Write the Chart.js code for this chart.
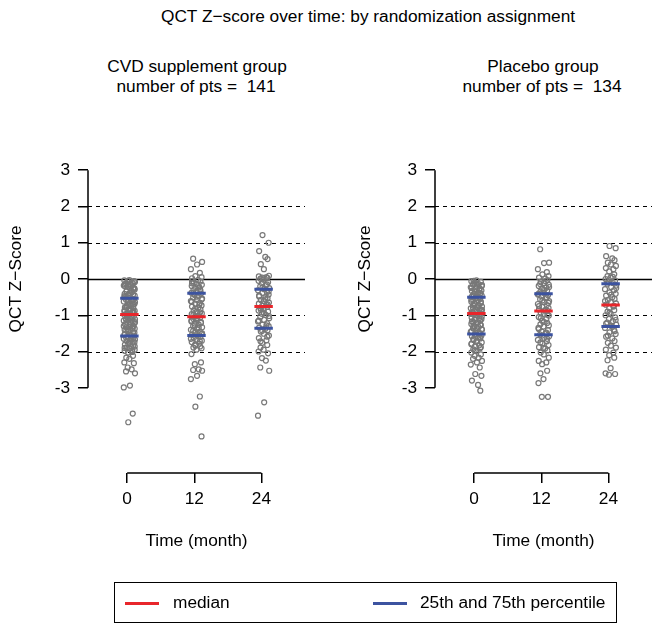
<!DOCTYPE html>
<html>
<head>
<meta charset="utf-8">
<script src="https://cdn.jsdelivr.net/npm/chart.js@4.4.1/dist/chart.umd.min.js"></script>
<style>
  body { margin: 0; background: #fff; font-family: "Liberation Sans", Arial, sans-serif; color: #000; }
  #wrap { position: relative; width: 662px; height: 634px; overflow: hidden; }
  canvas { position: absolute; left: 0; top: 0; }
  .t { position: absolute; white-space: nowrap; transform: translate(-50%, -50%); font-size: 17.3px; line-height: 1; }
  #legend { position: absolute; left: 114px; top: 582px; width: 501px; height: 39px; border: 1.5px solid #000; }
  .key { position: absolute; top: 19px; width: 34px; height: 3px; }
  .lab { position: absolute; top: 11px; font-size: 17.3px; line-height: 1; white-space: nowrap; }
</style>
</head>
<body>
<div id="wrap">
  <div class="t" style="left:368px;top:17px">QCT Z−score over time: by randomization assignment</div>
  <div class="t" style="left:197px;top:67px">CVD supplement group</div>
  <div class="t" style="left:196px;top:87px">number of pts = &nbsp;141</div>
  <div class="t" style="left:543px;top:67px">Placebo group</div>
  <div class="t" style="left:542px;top:87px">number of pts = &nbsp;134</div>
  <canvas id="cvd" width="662" height="634"></canvas>
  <canvas id="placebo" width="662" height="634"></canvas>
  <div id="legend">
    <div class="key" style="left:10px;background:#e8262b"></div>
    <div class="lab" style="left:58px">median</div>
    <div class="key" style="left:258px;background:#3c53a0"></div>
    <div class="lab" style="left:305px">25th and 75th percentile</div>
  </div>
</div>
<script>
// visit times (months)
const months = [0, 12, 24];
const xTicks = [0, 12, 24];
const yTicks = [-3, -2, -1, 0, 1, 2, 3];
const dashedLevels = [-2, -1, 1, 2];

// horizontal jitter used when plotting the points (months)
const jitter = [0.4, -0.5, 1.2, 0.1, 0.8, -0.2, 1.4, 0.5, -0.6, 1.0, 0.2, 1.3, -0.4, 0.7, 1.1, -0.1, 0.45, 1.35, -0.45, 0.9, 0.15, 1.05, -0.15];

// CVD supplement group, QCT Z-scores per visit
const cvd0 = [-0.03,-0.04,-0.06,-0.05,-0.09,-0.12,-0.08,-0.15,-0.18,-0.11,-0.22,-0.26,-0.19,-0.31,-0.24,-0.34,-0.38,-0.29,-0.41,-0.36,-0.45,-0.43,-0.49,-0.52,-0.47,
  -0.55,-0.59,-0.61,-0.57,-0.64,-0.67,-0.62,-0.71,-0.73,-0.69,-0.78,-0.75,-0.81,-0.79,-0.85,-0.88,-0.86,-0.91,-0.94,-0.9,-0.96,-0.98,-0.99,
  -1.02,-1.05,-1.03,-1.09,-1.11,-1.07,-1.15,-1.18,-1.13,-1.22,-1.25,-1.2,-1.29,-1.33,-1.31,-1.37,-1.4,-1.35,-1.44,-1.47,-1.42,-1.5,-1.54,-1.56,
  -1.6,-1.63,-1.61,-1.67,-1.7,-1.65,-1.74,-1.78,-1.75,-1.81,-1.85,-1.83,-1.89,-1.92,-1.95,-1.98,-2.01,-2.03,-2.12,-2.17,-2.2,-2.3,-2.32,-2.44,-2.49,-2.55,-2.6,-2.94,-2.99,-3.71,-3.95,
  -0.07,-0.14,-0.2,-0.27,-0.33,-0.4,-0.46,-0.5,-0.56,-0.63,-0.7,-0.76,-0.83,-0.89,-0.93,-1.0,-1.06,-1.12,-1.19,-1.24,-1.3,-1.36,-1.41,-1.48,-1.52,-1.58,-1.64,-1.71,-1.76,-1.86,-1.9,-1.96,-0.16,-0.6,-1.27];
const cvd12 = [0.56,0.47,0.4,0.27,0.17,0.08,0.05,0.02,-0.03,-0.07,-0.1,-0.14,-0.16,-0.19,-0.23,-0.25,-0.29,-0.31,-0.35,-0.38,-0.4,
  -0.44,-0.47,-0.51,-0.54,-0.58,-0.61,-0.66,-0.68,-0.73,-0.76,-0.79,-0.84,-0.87,-0.9,-0.95,-0.97,-1.0,-1.03,
  -1.06,-1.1,-1.12,-1.17,-1.19,-1.23,-1.26,-1.3,-1.33,-1.38,-1.4,-1.45,-1.47,-1.52,-1.54,-1.57,
  -1.6,-1.63,-1.67,-1.7,-1.74,-1.78,-1.81,-1.86,-1.89,-1.95,-2.07,-2.3,-2.35,-2.49,-2.51,-2.53,-2.67,-2.76,-3.24,-3.52,-4.34,
  -0.12,-0.2,-0.33,-0.42,-0.49,-0.56,-0.63,-0.71,-0.82,-0.92,-0.99,-1.08,-1.15,-1.21,-1.28,-1.35,-1.43,-1.5,-1.55,-1.65,-1.72,-1.84,-1.91,-0.06,-1.02];
const cvd24 = [1.21,1.0,0.77,0.61,0.55,0.41,0.27,0.09,0.07,0.05,0.04,0.03,0.01,-0.02,-0.05,-0.09,-0.12,-0.17,-0.2,-0.25,-0.28,
  -0.31,-0.36,-0.38,-0.43,-0.46,-0.51,-0.53,-0.58,-0.6,-0.65,-0.68,-0.71,-0.74,-0.77,
  -0.8,-0.83,-0.87,-0.9,-0.96,-0.99,-1.04,-1.08,-1.13,-1.17,-1.22,-1.26,-1.3,-1.34,-1.37,
  -1.41,-1.45,-1.51,-1.56,-1.63,-1.69,-1.76,-1.82,-1.89,-1.95,-2.0,-2.05,-2.18,-2.25,-2.44,-2.53,-3.4,-3.77,
  -0.15,-0.23,-0.34,-0.48,-0.56,-0.7,-0.85,-0.93,-1.02,-1.15,-1.28,-1.43,-1.59,-1.72,0.02];

// Placebo group, QCT Z-scores per visit
const pla0 = [-0.04,-0.06,-0.08,-0.1,-0.14,-0.15,-0.17,-0.21,-0.23,-0.26,-0.28,-0.32,-0.33,-0.37,-0.39,-0.42,-0.44,-0.46,-0.49,-0.5,
  -0.53,-0.55,-0.58,-0.6,-0.63,-0.66,-0.68,-0.71,-0.73,-0.76,-0.78,-0.81,-0.83,-0.86,-0.89,-0.91,-0.93,-0.95,
  -0.98,-1.0,-1.04,-1.06,-1.09,-1.13,-1.15,-1.18,-1.22,-1.24,-1.27,-1.31,-1.33,-1.36,-1.4,-1.42,-1.46,-1.49,-1.52,
  -1.56,-1.58,-1.62,-1.64,-1.68,-1.7,-1.75,-1.78,-1.83,-1.86,-1.91,-1.94,-1.98,-2.03,-2.08,-2.12,-2.17,-2.2,-2.26,-2.3,-2.36,-2.44,-2.62,-2.67,-2.8,-2.92,-3.08,
  -0.05,-0.12,-0.19,-0.25,-0.3,-0.35,-0.41,-0.47,-0.52,-0.57,-0.62,-0.69,-0.74,-0.79,-0.85,-0.9,-0.96,-1.02,-1.08,-1.11,-1.17,-1.2,-1.26,-1.29,-1.35,-1.38,-1.44,-1.5,-1.54,-1.6,-1.66,-1.73,-1.8,-1.88,-1.97];
const pla12 = [0.82,0.45,0.44,0.27,0.19,0.13,0.08,0.04,0.01,-0.03,-0.08,-0.11,-0.16,-0.19,-0.24,-0.27,-0.32,-0.35,-0.38,-0.41,
  -0.45,-0.48,-0.53,-0.56,-0.61,-0.64,-0.69,-0.72,-0.77,-0.8,-0.84,-0.87,-0.88,
  -0.93,-0.96,-1.01,-1.05,-1.11,-1.15,-1.21,-1.25,-1.31,-1.35,-1.41,-1.45,-1.5,-1.53,
  -1.58,-1.62,-1.68,-1.72,-1.78,-1.82,-1.88,-1.92,-1.97,-2.03,-2.08,-2.17,-2.26,-2.3,-2.35,-2.53,-2.6,-2.76,-2.87,-3.25,-3.25,
  -0.06,-0.14,-0.22,-0.3,-0.43,-0.51,-0.59,-0.66,-0.75,-0.86,-0.98,-1.08,-1.18,-1.28,-1.38,-1.48,-1.56,-1.65,-1.75,-1.9];
const pla24 = [0.91,0.85,0.63,0.57,0.52,0.45,0.4,0.36,0.3,0.27,0.21,0.13,0.08,0.04,0.0,-0.04,-0.08,-0.11,-0.13,
  -0.18,-0.22,-0.28,-0.31,-0.37,-0.41,-0.46,-0.5,-0.55,-0.58,-0.64,-0.67,-0.71,
  -0.76,-0.8,-0.86,-0.9,-0.96,-1.0,-1.06,-1.1,-1.16,-1.2,-1.26,-1.29,
  -1.35,-1.4,-1.47,-1.52,-1.59,-1.64,-1.71,-1.76,-1.84,-1.89,-1.95,-2.03,-2.1,-2.17,-2.24,-2.46,-2.6,-2.62,-2.64,
  0.06,-0.06,-0.25,-0.43,-0.61,-0.74,-0.93,-1.13,-1.23,-1.32,-1.44,-1.56];

// summary lines per visit
const cvdMedian = [-0.98, -1.04, -0.76];
const cvdQ1 = [-1.57, -1.56, -1.36];
const cvdQ3 = [-0.53, -0.39, -0.28];
const plaMedian = [-0.95, -0.88, -0.72];
const plaQ1 = [-1.52, -1.54, -1.31];
const plaQ3 = [-0.50, -0.41, -0.13];

const font = { family: '"Liberation Sans", Arial, sans-serif', size: 17.3 };

const guides = {
  id: 'guides',
  beforeDatasetsDraw(chart) {
    const { ctx, chartArea: a, scales: { x, y } } = chart;
    const hline = (v) => Math.round(y.getPixelForValue(v)) + 0.5;
    ctx.save();
    ctx.strokeStyle = '#000';
    ctx.lineWidth = 1;
    ctx.setLineDash([4, 4]);
    dashedLevels.forEach(v => {
      ctx.beginPath(); ctx.moveTo(a.left, hline(v)); ctx.lineTo(a.right, hline(v)); ctx.stroke();
    });
    ctx.setLineDash([]);
    ctx.lineWidth = 1.5;
    ctx.beginPath(); ctx.moveTo(a.left, hline(0)); ctx.lineTo(a.right, hline(0)); ctx.stroke();
    ctx.beginPath();
    ctx.moveTo(a.left, y.getPixelForValue(3)); ctx.lineTo(a.left, y.getPixelForValue(-3));
    ctx.moveTo(x.getPixelForValue(0), a.bottom); ctx.lineTo(x.getPixelForValue(24), a.bottom);
    ctx.stroke();
    ctx.restore();
  }
};

function segments(values) {
  const out = [];
  values.forEach((v, i) => {
    out.push({ x: months[i] - 1.25, y: v }, { x: months[i] + 2.05, y: v }, { x: months[i] + 3, y: null });
  });
  return out;
}

function panel(id, cols, med, q1, q3, pad, yWidth) {
  const pts = [];
  cols.forEach((col, c) => {
    col.forEach((v, i) => pts.push({ x: months[c] + jitter[(i + c * 5) % jitter.length], y: v }));
  });
  return new Chart(document.getElementById(id), {
    type: 'scatter',
    data: {
      datasets: [
        { data: segments(med), showLine: true, spanGaps: false, borderColor: '#e8262b', borderWidth: 3, pointRadius: 0 },
        { data: segments(q1).concat(segments(q3)), showLine: true, spanGaps: false, borderColor: '#3c53a0', borderWidth: 3, pointRadius: 0 },
        { data: pts, pointRadius: 2.5, pointBorderWidth: 1.2, pointBorderColor: '#787878', pointBackgroundColor: 'rgba(0,0,0,0)' }
      ]
    },
    options: {
      responsive: false,
      animation: false,
      devicePixelRatio: 1,
      layout: { padding: pad },
      plugins: { legend: { display: false }, tooltip: { enabled: false } },
      scales: {
        x: {
          type: 'linear', min: -7, max: 31.8,
          afterBuildTicks: s => { s.ticks = xTicks.map(v => ({ value: v })); },
          afterFit: s => { s.height = 79; },
          grid: { drawOnChartArea: false, drawTicks: true, tickLength: 10, color: '#000', lineWidth: 1.5 },
          border: { display: false },
          ticks: { font, color: '#000', padding: 6, maxRotation: 0 },
          title: { display: true, text: 'Time (month)', font, color: '#000', padding: 0 }
        },
        y: {
          min: -5.35, max: 5.35,
          afterBuildTicks: s => { s.ticks = yTicks.map(v => ({ value: v })); },
          afterFit: s => { s.width = yWidth; },
          grid: { drawOnChartArea: false, drawTicks: true, tickLength: 10, color: '#000', lineWidth: 1.5 },
          border: { display: false },
          ticks: { font, color: '#000', padding: 8 },
          title: { display: true, text: 'QCT Z−Score', font, color: '#000', padding: 0 }
        }
      }
    },
    plugins: [guides]
  });
}

panel('cvd', [cvd0, cvd12, cvd24], cvdMedian, cvdQ1, cvdQ3, { left: 6, right: 357, top: 85, bottom: 82 }, 82);
panel('placebo', [pla0, pla12, pla24], plaMedian, plaQ1, plaQ3, { left: 355, right: 10, top: 85, bottom: 82 }, 80);
</script>
</body>
</html>
